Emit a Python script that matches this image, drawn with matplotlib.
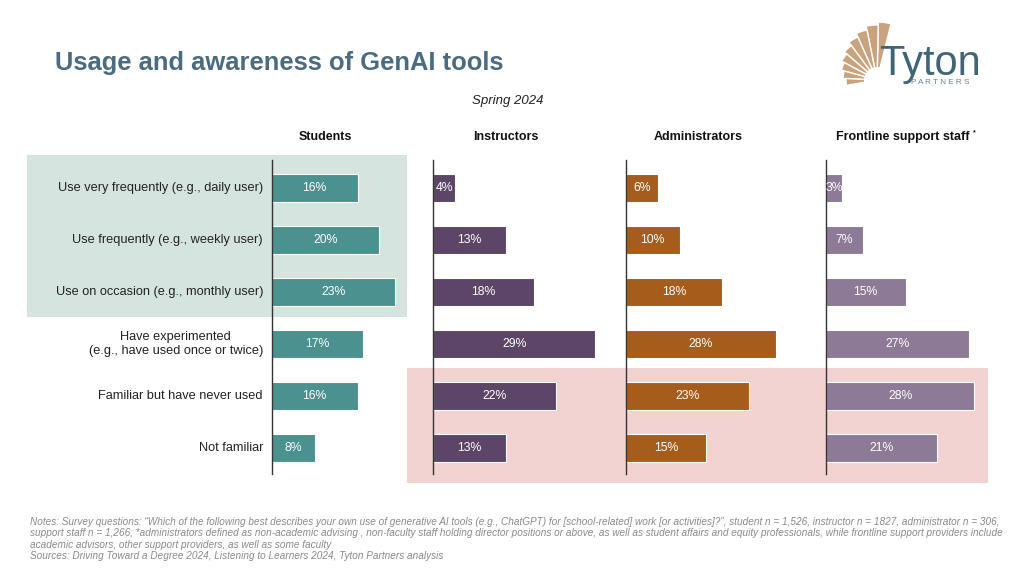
import matplotlib
matplotlib.use("Agg")
import matplotlib.pyplot as plt
import matplotlib.patches as mpatches
import numpy as np

plt.rcParams['font.family'] = ['Liberation Sans', 'DejaVu Sans']

# ---------------- data ----------------
categories = [
    "Use very frequently (e.g., daily user)",
    "Use frequently (e.g., weekly user)",
    "Use on occasion (e.g., monthly user)",
    "Have experimented\n(e.g., have used once or twice)",
    "Familiar but have never used",
    "Not familiar",
]
groups = ["Students", "Instructors", "Administrators", "Frontline support staff"]
students = [16, 20, 23, 17, 16, 8]
instructors = [4, 13, 18, 29, 22, 13]
administrators = [6, 10, 18, 28, 23, 15]
frontline = [3, 7, 15, 27, 28, 21]
series = [students, instructors, administrators, frontline]
colors = ["#4A9190", "#5C4566", "#A65C1B", "#8D7A96"]

W, H = 1024, 576
fig = plt.figure(figsize=(W / 100, H / 100), dpi=100)


def fx(x):
    return x / W


def fy(y):
    return 1 - y / H


# background overlay axes in pixel coordinates
bg = fig.add_axes([0, 0, 1, 1], zorder=0)
bg.set_xlim(0, W)
bg.set_ylim(H, 0)
bg.axis("off")
bg.add_patch(mpatches.Rectangle((27, 155), 380, 162, color="#D6E4E0", lw=0))
bg.add_patch(mpatches.Rectangle((407, 368), 581, 115, color="#F2D3D2", lw=0))

# logo fan
cx, cy = 877, 80
angles = np.linspace(76, 190, 10)
radii = [58, 55, 51, 47, 43, 40, 37, 34, 31]
for i in range(9):
    bg.add_patch(mpatches.Wedge((cx, cy), radii[i], -angles[i + 1], -angles[i],
                                facecolor="#C9A27E", edgecolor="white", lw=1.0))
bg.add_patch(mpatches.Circle((cx, cy), 13, color="white", lw=0))
fig.text(fx(879), fy(75), "Tyton", fontsize=30, color="#3F6577", ha="left", va="baseline")
fig.text(fx(911), fy(83), "P A R T N E R S", fontsize=5.9, color="#6F8290", ha="left", va="center")

# title
fig.text(fx(55), fy(70), "Usage and awareness of GenAI tools", fontsize=18.4, fontweight="bold",
         color="#4A6B80", ha="left", va="baseline")
fig.text(fx(508), fy(101), "Spring 2024", fontsize=9.5, style="italic", color="#222222",
         ha="center", va="center")

# panels
axis_left = [272, 433, 626, 826]
header_x = [325, 506, 698, 903]
px_per_pct = [5.35, 5.6, 5.35, 5.3]
panel_w = 180
top, bottom = 160, 474
row0, step = 188, 52
y = np.arange(len(categories))

for k, (vals, col) in enumerate(zip(series, colors)):
    ax = fig.add_axes([fx(axis_left[k]), fy(bottom), panel_w / W, (bottom - top) / H], zorder=2)
    ax.patch.set_alpha(0)
    ax.set_xlim(0, panel_w / px_per_pct[k])
    ax.set_ylim(len(categories) - 1 + (bottom - (row0 + step * 5)) / step, -(row0 - top) / step)
    ax.barh(y, vals, height=28 / step, color=col, edgecolor="white", linewidth=0.8)
    for yi, v in zip(y, vals):
        ax.text(v / 2, yi, f"{v}%", color="white", fontsize=8.8, ha="center", va="center")
    for s in ["top", "right", "bottom"]:
        ax.spines[s].set_visible(False)
    ax.spines["left"].set_color("#333333")
    ax.spines["left"].set_linewidth(1.0)
    ax.set_xticks([])
    ax.set_yticks([])

for k, g in enumerate(groups):
    fig.text(fx(header_x[k]), fy(137), g, fontsize=9, fontweight="bold", color="#111111",
             ha="center", va="center")
fig.text(fx(973), fy(133), "*", fontsize=5, fontweight="bold", color="#111111", ha="left", va="center")

for i, c in enumerate(categories):
    fig.text(fx(263), fy(row0 + step * i), c, fontsize=9.2, color="#222222",
             ha="right", va="center", multialignment="center", linespacing=1.25)

notes = [
    "Notes: Survey questions: \u201cWhich of the following best describes your own use of generative AI tools (e.g., ChatGPT) for [school-related] work [or activities]?\u201d, student n = 1,526, instructor n = 1827, administrator n = 306,",
    "support staff n = 1,266; *administrators defined as non-academic advising , non-faculty staff holding director positions or above, as well as student affairs and equity professionals, while frontline support providers include",
    "academic advisors, other support providers, as well as some faculty",
    "Sources: Driving Toward a Degree 2024, Listening to Learners 2024, Tyton Partners analysis",
]
for i, n in enumerate(notes):
    fig.text(fx(30), fy(522 + 11.4 * i), n, fontsize=7.2, style="italic", color="#8A8A8A",
             ha="left", va="center")

fig.savefig("out.png", dpi=100, facecolor="white")
